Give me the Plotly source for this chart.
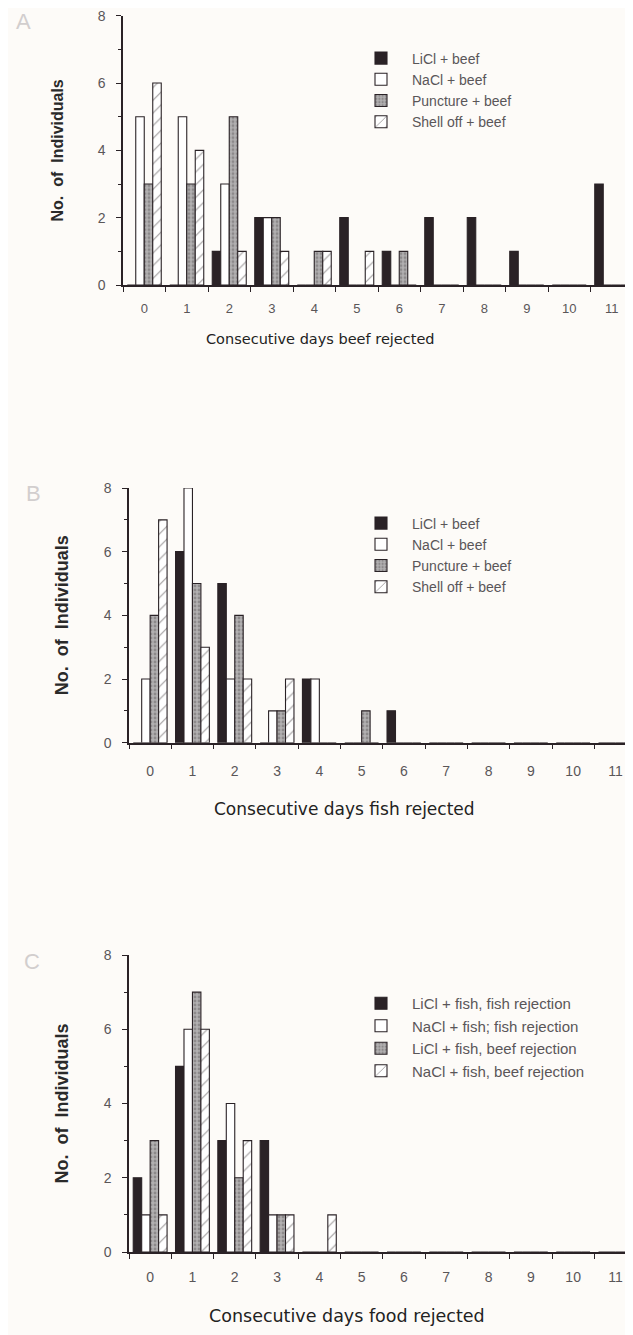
import plotly.graph_objects as go

# ---------------- data ----------------
days = [str(d) for d in range(12)]

A_licl = [0, 0, 1, 2, 0, 2, 1, 2, 2, 1, 0, 3]
A_nacl = [5, 5, 3, 2, 0, 0, 0, 0, 0, 0, 0, 0]
A_punct = [3, 3, 5, 2, 1, 0, 1, 0, 0, 0, 0, 0]
A_shell = [6, 4, 1, 1, 1, 1, 0, 0, 0, 0, 0, 0]
A_names = ["LiCl + beef", "NaCl + beef", "Puncture + beef", "Shell off + beef"]

B_licl = [0, 6, 5, 0, 2, 0, 1, 0, 0, 0, 0, 0]
B_nacl = [2, 8, 2, 1, 2, 0, 0, 0, 0, 0, 0, 0]
B_punct = [4, 5, 4, 1, 0, 1, 0, 0, 0, 0, 0, 0]
B_shell = [7, 3, 2, 2, 0, 0, 0, 0, 0, 0, 0, 0]
B_names = ["LiCl + beef", "NaCl + beef", "Puncture + beef", "Shell off + beef"]

C_licl_fish = [2, 5, 3, 3, 0, 0, 0, 0, 0, 0, 0, 0]
C_nacl_fish = [1, 6, 4, 1, 0, 0, 0, 0, 0, 0, 0, 0]
C_licl_beef = [3, 7, 2, 1, 0, 0, 0, 0, 0, 0, 0, 0]
C_nacl_beef = [1, 6, 3, 1, 1, 0, 0, 0, 0, 0, 0, 0]
C_names = ["LiCl + fish, fish rejection", "NaCl + fish; fish rejection",
           "LiCl + fish, beef rejection", "NaCl + fish, beef rejection"]

x_titles = ["Consecutive days beef rejected", "Consecutive days fish rejected",
            "Consecutive days food rejected"]
y_title = "No.  of  Individuals"
panel_letters = ["A", "B", "C"]

# ---------------- styles / geometry ----------------
OFF = 8                      # page body margin of the html page
W, H = 633 - OFF, 1335 - OFF
BG = "#fdfbf8"
INK = "#2a2226"
GREY_TXT = "#5a5658"
FONT = "Liberation Sans, Arial, sans-serif"
TITLE_FONT = "DejaVu Sans, Liberation Sans, sans-serif"


def fx(px):
    return (px - OFF) / W


def fy(py):
    return 1 - (py - OFF) / H


styles = [
    dict(color=INK, pattern=dict(shape="")),
    dict(color="#ffffff", pattern=dict(shape="")),
    dict(color="#a3a1a2", pattern=dict(shape=".", fgcolor="#656163", bgcolor="#b2b0b1", size=4, solidity=0.4)),
    dict(color="#ffffff", pattern=dict(shape="/", fgcolor="#3a3336", bgcolor="#ffffff", size=9, solidity=0.12)),
]

fig = go.Figure()

panels = [
    (A_names, [A_licl, A_nacl, A_punct, A_shell]),
    (B_names, [B_licl, B_nacl, B_punct, B_shell]),
    (C_names, [C_licl_fish, C_nacl_fish, C_licl_beef, C_nacl_beef]),
]

# page-pixel geometry
geom = [
    dict(left=123, top=15.7, bottom=285, cat=42.5, leg_top=42.5, leg_font=14, letter=(23, 21),
         tick_font=13, tick_off=11, xt=(320, 339), xt_font=14.5, yt_font=16),
    dict(left=129, top=488, bottom=742.7, cat=42.3, leg_top=507.5, leg_font=14, letter=(33, 493),
         tick_font=14, tick_off=15, xt=(344, 809), xt_font=17, yt_font=18),
    dict(left=129, top=955, bottom=1252, cat=42.3, leg_top=987, leg_font=15, letter=(32, 961),
         tick_font=14, tick_off=11, xt=(347, 1316), xt_font=17.5, yt_font=18),
]

for i, (names, series) in enumerate(panels):
    k = "" if i == 0 else str(i + 1)
    leg = "legend" + k
    for j, (nm, vals) in enumerate(zip(names, series)):
        st = styles[j]
        fig.add_trace(go.Bar(
            x=days, y=vals, name=nm,
            xaxis="x" + k, yaxis="y" + k, legend=leg,
            marker=dict(color=st["color"], line=dict(color=INK, width=1.1),
                        pattern=st["pattern"]),
            offsetgroup=str(j),
        ))

layout = dict(
    width=W, height=H, autosize=False,
    paper_bgcolor=BG, plot_bgcolor=BG,
    margin=dict(l=0, r=0, t=0, b=0, pad=0, autoexpand=False),
    barmode="group", bargap=0.2, bargroupgap=0.0,
    font=dict(family=FONT, color=GREY_TXT),
    showlegend=True,
)

annotations = []
for i, g in enumerate(geom):
    k = "" if i == 0 else str(i + 1)
    xmax = -0.5 + (633 - g["left"]) / g["cat"]
    xa = dict(
        domain=[fx(g["left"]), 1.0],
        type="category", range=[-0.5, xmax],
        anchor="y" + k, automargin=False,
        showline=True, linecolor=INK, linewidth=1.5,
        ticks="outside", tickson="boundaries", ticklen=5, tickcolor=INK, tickwidth=1.3,
        tickfont=dict(size=g["tick_font"], color=GREY_TXT, family=FONT),
        ticklabelstandoff=g["tick_off"], ticklabeloverflow="allow",
        showgrid=False, zeroline=False,
        fixedrange=True,
    )
    ya = dict(
        domain=[fy(g["bottom"]), fy(g["top"])],
        range=[0, 8], anchor="x" + k, automargin=False,
        showline=True, linecolor=INK, linewidth=1.5,
        ticks="outside", ticklen=5, tickcolor=INK, tickwidth=1.3,
        tickvals=[0, 2, 4, 6, 8],
        minor=dict(tickvals=[1, 3, 5, 7], ticks="outside", ticklen=3, tickcolor=INK, tickwidth=1),
        tickfont=dict(size=14, color=GREY_TXT, family=FONT),
        ticklabelstandoff=8, ticklabeloverflow="allow",
        showgrid=False, zeroline=False,
        title=dict(text="<b>" + y_title + "</b>", font=dict(size=g["yt_font"], color="#2a2a2a", family=FONT),
                   standoff=30),
        fixedrange=True,
    )
    layout["xaxis" + k] = xa
    layout["yaxis" + k] = ya
    layout["legend" + k] = dict(
        x=fx(350), xanchor="left",
        y=fy(g["leg_top"]), yanchor="top",
        bgcolor="rgba(0,0,0,0)",
        font=dict(size=g["leg_font"], color=GREY_TXT, family=FONT),
        itemwidth=52, traceorder="normal",
    )
    lx, ly = g["letter"]
    annotations.append(dict(
        text=panel_letters[i], x=fx(lx), y=fy(ly), xanchor="center", yanchor="middle",
        xref="paper", yref="paper", showarrow=False,
        font=dict(size=22, color="#d2cece", family=FONT),
    ))
    tx, ty = g["xt"]
    annotations.append(dict(
        text=x_titles[i], x=fx(tx), y=fy(ty), xanchor="center", yanchor="middle",
        xref="paper", yref="paper", showarrow=False,
        font=dict(size=g["xt_font"], color="#222", family=TITLE_FONT),
    ))

layout["annotations"] = annotations
fig.update_layout(**layout)

fig.write_html("out.html")
